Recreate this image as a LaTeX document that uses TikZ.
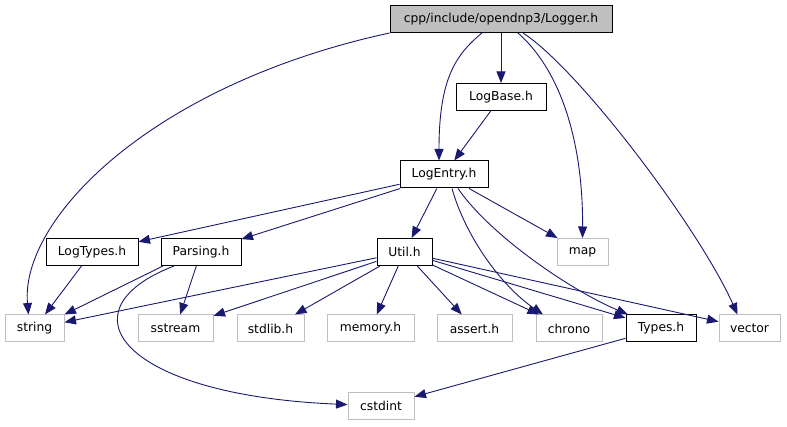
\documentclass[tikz,border=0pt]{standalone}
\usepackage{fontspec}
\setmainfont{DejaVu Sans}
\usetikzlibrary{arrows.meta}
\definecolor{edgeblue}{HTML}{191970}
\definecolor{leafgray}{HTML}{BFBFBF}

\begin{document}
\begin{tikzpicture}[x=1pt, y=-1pt, every node/.style={font=\fontsize{12.3}{14}\selectfont, minimum height=27pt, inner sep=0pt}, >={Triangle[length=11.5pt, width=9pt]}, hdr/.style={draw=black, fill=white, line width=1pt}, ext/.style={draw=leafgray, fill=white, line width=1pt}, root/.style={draw=black, fill=leafgray, line width=1pt}, e/.style={->, draw=edgeblue, line width=0.9pt}]
	\useasboundingbox (0,0) rectangle (787,427);
	\node[root, minimum width=222pt] (logger) at (501,19) {cpp/include/opendnp3/Logger.h};
	\node[hdr, minimum width=90pt] (logbase) at (501,97) {LogBase.h};
	\node[hdr, minimum width=88pt] (logentry) at (444,174.5) {LogEntry.h};
	\node[hdr, minimum width=92pt] (logtypes) at (92,252) {LogTypes.h};
	\node[hdr, minimum width=80pt] (parsing) at (201,252) {Parsing.h};
	\node[hdr, minimum width=55pt] (util) at (404.5,252) {Util.h};
	\node[ext, minimum width=51pt] (map) at (582.5,252) {map};
	\node[ext, minimum width=59pt] (string) at (34.5,328.5) {string};
	\node[ext, minimum width=75pt] (sstream) at (175.5,328.5) {sstream};
	\node[ext, minimum width=67pt] (stdlib) at (270.5,328.5) {stdlib.h};
	\node[ext, minimum width=87pt] (memory) at (370.5,328.5) {memory.h};
	\node[ext, minimum width=75pt] (assert) at (474.5,328.5) {assert.h};
	\node[ext, minimum width=66pt] (chrono) at (569,328.5) {chrono};
	\node[hdr, minimum width=70pt] (types) at (661,328.5) {Types.h};
	\node[ext, minimum width=61pt] (vector) at (749.5,328.5) {vector};
	\node[ext, minimum width=66pt] (cstdint) at (381,406) {cstdint};
	\draw[e] (logger.south west) .. controls (150,85) and (20,220) .. ([xshift=-6pt]string.north);
	\draw[e] (logger) -- (logbase);
	\draw[e] ([xshift=-19pt]logger.south) .. controls (455,55) and (439,80) .. ([xshift=-5pt]logentry.north);
	\draw[e] ([xshift=17pt]logger.south) .. controls (560,70) and (583,140) .. (map);
	\draw[e] ([xshift=22pt]logger.south) .. controls (580,70) and (700,230) .. ([xshift=-12pt]vector.north);
	\draw[e] (logbase) -- (logentry);
	\draw[e] (logentry) -- (logtypes);
	\draw[e] (logentry) -- (parsing);
	\draw[e] (logentry) -- (util);
	\draw[e] (logentry) -- (map);
	\draw[e] ([xshift=8pt]logentry.south) .. controls (465,235) and (500,285) .. ([xshift=-26pt]chrono.north);
	\draw[e] ([xshift=14pt]logentry.south) .. controls (490,235) and (570,290) .. ([xshift=-33pt]types.north);
	\draw[e] (logtypes) -- (string);
	\draw[e] ([xshift=-38pt]parsing.south) -- (string.north east);
	\draw[e] (parsing) -- (sstream);
	\draw[e] ([xshift=-27pt]parsing.south) .. controls (60,310) and (120,395) .. (cstdint);
	\draw[e] (util) -- (string);
	\draw[e] (util) -- (sstream);
	\draw[e] (util) -- (stdlib);
	\draw[e] (util) -- (memory);
	\draw[e] (util) -- (assert);
	\draw[e] (util) -- (chrono);
	\draw[e] (util) -- (types);
	\draw[e] (util) -- (vector);
	\draw[e] (types) -- (cstdint);
\end{tikzpicture}
\end{document}
